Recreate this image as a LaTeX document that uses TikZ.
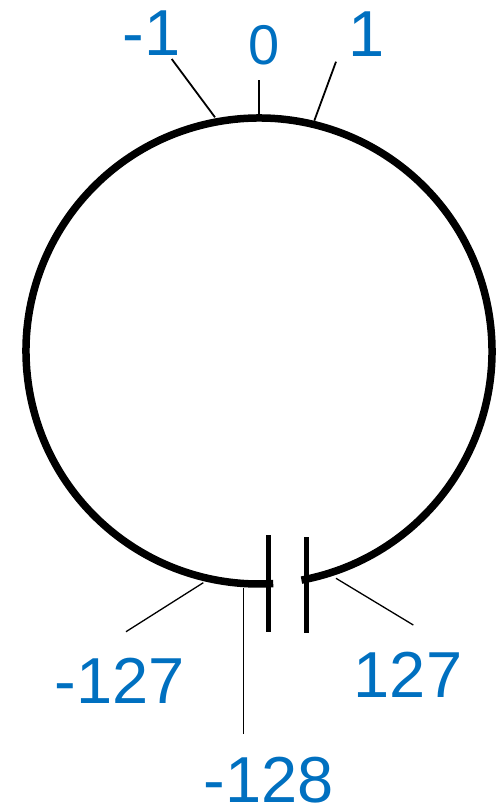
\documentclass[tikz,border=0pt]{standalone}
\usepackage{fontspec}
\setmainfont{Liberation Sans}
\definecolor{lblue}{HTML}{0070C0}
\begin{document}
\begin{tikzpicture}[x=1pt,y=-1pt,
  ring/.style={line width=7.5pt},
  bar/.style={line width=5.5pt},
  tick/.style={line width=1.8pt},
  tickthin/.style={line width=1.3pt},
  lbl/.style={text=lblue,inner sep=0pt,anchor=base,text depth=0pt,font=\fontsize{65}{70}\selectfont},
  lblsmall/.style={lbl,font=\fontsize{56}{60}\selectfont}]
\useasboundingbox[fill=white] (0,0) rectangle (500,811);
\coordinate (c) at (259,351);
% ring with gap
\draw[ring] (c) ++(79.5:233) arc[start angle=79.5, end angle=-273.5, radius=233];
% gap bars
\coordinate (bl1) at (268.5,535);
\coordinate (bl2) at (268.5,632);
\coordinate (br1) at (306.5,537);
\coordinate (br2) at (306.5,633);
\draw[bar] (bl1) -- (bl2);
\draw[bar] (br1) -- (br2);
% labels
\node[lbl] (m1) at (151.5,55) {-1};
\node[lblsmall] (z) at (264,64.5) {0};
\node[lbl] (p1) at (367,56) {1};
\node[lbl] (m127) at (120,703) {-127};
\node[lbl] (m128) at (268.5,802) {-128};
\node[lbl] (p127) at (408,697) {127};
% tick ends
\coordinate (tm1a) at (171.7,59);   \coordinate (tm1b) at (215,117.3);
\coordinate (tza) at (259,80);      \coordinate (tzb) at (259,116);
\coordinate (tp1a) at (336,61.7);   \coordinate (tp1b) at (314.3,120.7);
\coordinate (tm127a) at (126,631.7); \coordinate (tm127b) at (203.3,582.7);
\coordinate (tm128a) at (243.7,734); \coordinate (tm128b) at (243.7,588);
\coordinate (tp127a) at (413.3,625); \coordinate (tp127b) at (336,578.3);
\draw[tick] (tm1a) -- (tm1b);
\draw[tick] (tza) -- (tzb);
\draw[tick] (tp1a) -- (tp1b);
\draw[tickthin] (tm127a) -- (tm127b);
\draw[tickthin] (tm128a) -- (tm128b);
\draw[tickthin] (tp127a) -- (tp127b);
\end{tikzpicture}
\end{document}
